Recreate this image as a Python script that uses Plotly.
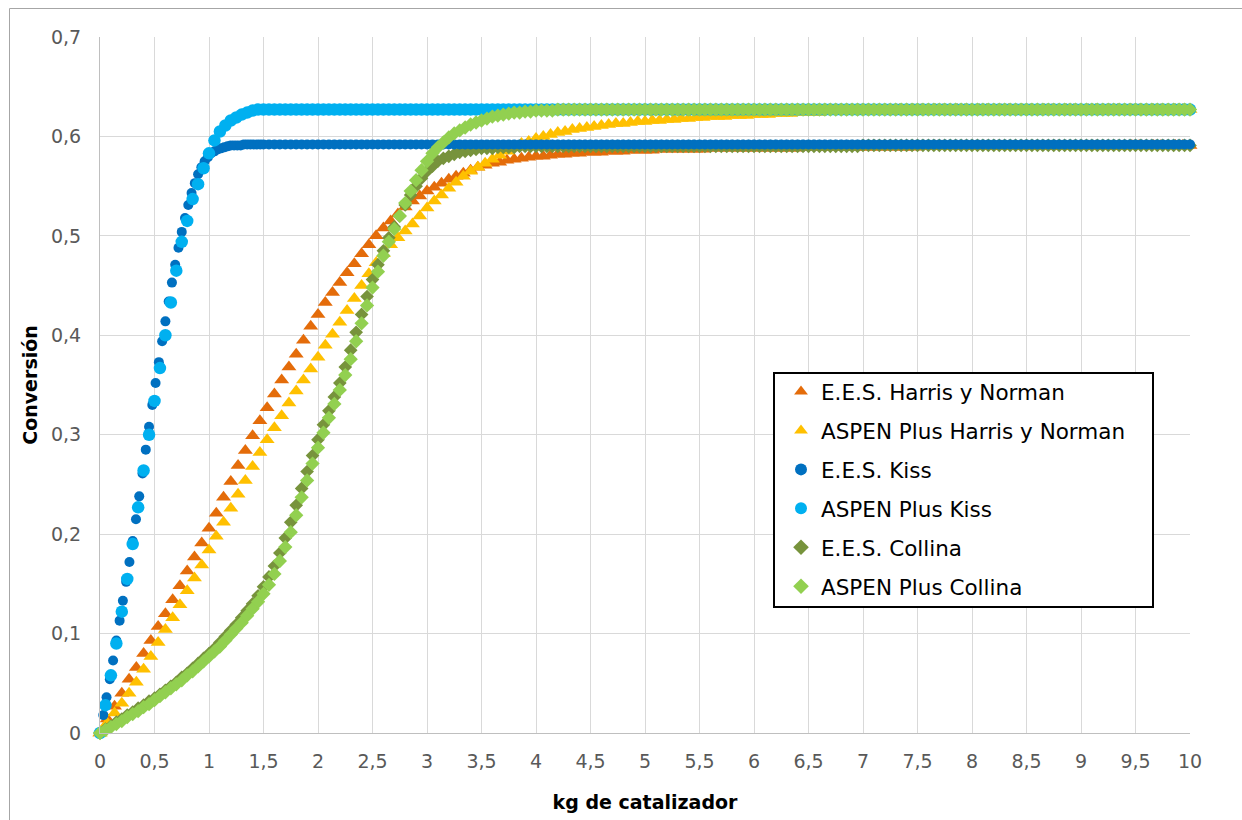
import plotly.graph_objects as go

# ---------------- data ----------------
# x grid used by the Harris y Norman series (step 1/15 kg)
X_HARRIS = [
    0, 0.0667, 0.1333, 0.2, 0.2667, 0.3333, 0.4, 0.4667, 0.5333, 0.6, 0.6667, 0.7333, 0.8, 0.8667, 0.9333,
    1, 1.0667, 1.1333, 1.2, 1.2667, 1.3333, 1.4, 1.4667, 1.5333, 1.6, 1.6667, 1.7333, 1.8, 1.8667, 1.9333,
    2, 2.0667, 2.1333, 2.2, 2.2667, 2.3333, 2.4, 2.4667, 2.5333, 2.6, 2.6667, 2.7333, 2.8, 2.8667, 2.9333,
    3, 3.0667, 3.1333, 3.2, 3.2667, 3.3333, 3.4, 3.4667, 3.5333, 3.6, 3.6667, 3.7333, 3.8, 3.8667, 3.9333,
    4, 4.0667, 4.1333, 4.2, 4.2667, 4.3333, 4.4, 4.4667, 4.5333, 4.6, 4.6667, 4.7333, 4.8, 4.8667, 4.9333,
    5, 5.0667, 5.1333, 5.2, 5.2667, 5.3333, 5.4, 5.4667, 5.5333, 5.6, 5.6667, 5.7333, 5.8, 5.8667, 5.9333,
    6, 6.0667, 6.1333, 6.2, 6.2667, 6.3333, 6.4, 6.4667, 6.5333, 6.6, 6.6667, 6.7333, 6.8, 6.8667, 6.9333,
    7, 7.0667, 7.1333, 7.2, 7.2667, 7.3333, 7.4, 7.4667, 7.5333, 7.6, 7.6667, 7.7333, 7.8, 7.8667, 7.9333,
    8, 8.0667, 8.1333, 8.2, 8.2667, 8.3333, 8.4, 8.4667, 8.5333, 8.6, 8.6667, 8.7333, 8.8, 8.8667, 8.9333,
    9, 9.0667, 9.1333, 9.2, 9.2667, 9.3333, 9.4, 9.4667, 9.5333, 9.6, 9.6667, 9.7333, 9.8, 9.8667, 9.9333,
    10,
]
Y_EES_HARRIS = [
    0, 0.014, 0.027, 0.040, 0.054, 0.066, 0.080, 0.093, 0.107, 0.120, 0.134, 0.148, 0.163, 0.177, 0.191,
    0.206, 0.221, 0.237, 0.253, 0.269, 0.284, 0.299, 0.314, 0.327, 0.341, 0.355, 0.368, 0.381, 0.395, 0.409,
    0.421, 0.433, 0.443, 0.453, 0.463, 0.472, 0.482, 0.491, 0.500, 0.508, 0.515, 0.522, 0.529, 0.535, 0.540,
    0.545, 0.549, 0.553, 0.557, 0.560, 0.563, 0.566, 0.569, 0.571, 0.573, 0.574, 0.576, 0.577, 0.578, 0.579,
    0.580, 0.580, 0.581, 0.582, 0.582, 0.583, 0.583, 0.584, 0.584, 0.584, 0.585, 0.585, 0.585, 0.586, 0.586,
    0.586, 0.586, 0.587, 0.587, 0.587, 0.587, 0.587, 0.587, 0.587, 0.588, 0.588, 0.588, 0.588, 0.588, 0.588,
    0.588, 0.588, 0.588, 0.588, 0.588, 0.588, 0.588, 0.589, 0.589, 0.589, 0.589, 0.589, 0.589, 0.589, 0.589,
    0.589, 0.589, 0.589, 0.589, 0.589, 0.589, 0.589, 0.589, 0.590, 0.590, 0.590, 0.590, 0.590, 0.590, 0.590,
    0.590, 0.590, 0.590, 0.590, 0.590, 0.590, 0.590, 0.590, 0.590, 0.590, 0.590, 0.590, 0.590, 0.590, 0.590,
    0.590, 0.590, 0.590, 0.590, 0.590, 0.590, 0.590, 0.591, 0.591, 0.591, 0.591, 0.591, 0.591, 0.591, 0.591,
    0.591,
]
Y_ASPEN_HARRIS = [
    0, 0.010, 0.020, 0.030, 0.040, 0.051, 0.064, 0.077, 0.091, 0.104, 0.116, 0.129, 0.143, 0.156, 0.169,
    0.184, 0.198, 0.212, 0.226, 0.240, 0.254, 0.268, 0.282, 0.295, 0.307, 0.319, 0.332, 0.344, 0.355, 0.366,
    0.378, 0.390, 0.401, 0.413, 0.425, 0.437, 0.450, 0.462, 0.473, 0.482, 0.491, 0.498, 0.505, 0.512, 0.520,
    0.528, 0.535, 0.541, 0.548, 0.554, 0.560, 0.565, 0.569, 0.573, 0.577, 0.581, 0.585, 0.589, 0.593, 0.595,
    0.598, 0.600, 0.602, 0.604, 0.605, 0.607, 0.608, 0.609, 0.610, 0.611, 0.612, 0.613, 0.613, 0.614, 0.615,
    0.615, 0.616, 0.616, 0.617, 0.617, 0.618, 0.618, 0.619, 0.619, 0.620, 0.620, 0.620, 0.621, 0.621, 0.621,
    0.622, 0.622, 0.622, 0.623, 0.623, 0.623, 0.624, 0.624, 0.624, 0.624, 0.625, 0.625, 0.625, 0.625, 0.626,
    0.626, 0.626, 0.626, 0.626, 0.626, 0.627, 0.627, 0.627, 0.627, 0.627, 0.627, 0.627, 0.627, 0.627, 0.627,
    0.627, 0.627, 0.627, 0.627, 0.627, 0.627, 0.627, 0.627, 0.627, 0.627, 0.627, 0.627, 0.627, 0.627, 0.627,
    0.627, 0.627, 0.627, 0.627, 0.627, 0.627, 0.627, 0.627, 0.627, 0.627, 0.627, 0.627, 0.627, 0.627, 0.627,
    0.627,
]

# x grid used by the E.E.S. Kiss series (fine at the start)
X_EES_KISS = [
    0, 0.03, 0.06, 0.09, 0.12, 0.15, 0.18, 0.21, 0.24, 0.27,
    0.3, 0.33, 0.36, 0.39, 0.42, 0.45, 0.48, 0.51, 0.54, 0.57,
    0.6, 0.63, 0.66, 0.69, 0.72, 0.75, 0.78, 0.81, 0.84, 0.87,
    0.9, 0.93, 0.96, 0.99, 1.02, 1.05, 1.08, 1.11, 1.14, 1.17,
    1.2, 1.23, 1.26, 1.29, 1.32, 1.35, 1.38, 1.41, 1.44, 1.47,
    1.5,
    1.55, 1.6, 1.65, 1.7, 1.75, 1.8, 1.85, 1.9, 1.95,
    2, 2.05, 2.1, 2.15, 2.2, 2.25, 2.3, 2.35, 2.4, 2.45, 2.5, 2.55, 2.6, 2.65, 2.7, 2.75, 2.8, 2.85, 2.9, 2.95,
    3, 3.05, 3.1, 3.15, 3.2, 3.25, 3.3, 3.35, 3.4, 3.45, 3.5, 3.55, 3.6, 3.65, 3.7, 3.75, 3.8, 3.85, 3.9, 3.95,
    4, 4.05, 4.1, 4.15, 4.2, 4.25, 4.3, 4.35, 4.4, 4.45, 4.5, 4.55, 4.6, 4.65, 4.7, 4.75, 4.8, 4.85, 4.9, 4.95,
    5, 5.05, 5.1, 5.15, 5.2, 5.25, 5.3, 5.35, 5.4, 5.45, 5.5, 5.55, 5.6, 5.65, 5.7, 5.75, 5.8, 5.85, 5.9, 5.95,
    6, 6.05, 6.1, 6.15, 6.2, 6.25, 6.3, 6.35, 6.4, 6.45, 6.5, 6.55, 6.6, 6.65, 6.7, 6.75, 6.8, 6.85, 6.9, 6.95,
    7, 7.05, 7.1, 7.15, 7.2, 7.25, 7.3, 7.35, 7.4, 7.45, 7.5, 7.55, 7.6, 7.65, 7.7, 7.75, 7.8, 7.85, 7.9, 7.95,
    8, 8.05, 8.1, 8.15, 8.2, 8.25, 8.3, 8.35, 8.4, 8.45, 8.5, 8.55, 8.6, 8.65, 8.7, 8.75, 8.8, 8.85, 8.9, 8.95,
    9, 9.05, 9.1, 9.15, 9.2, 9.25, 9.3, 9.35, 9.4, 9.45, 9.5, 9.55, 9.6, 9.65, 9.7, 9.75, 9.8, 9.85, 9.9, 9.95,
    10,
]
Y_EES_KISS = [
    0, 0.018, 0.036, 0.054, 0.073, 0.093, 0.113, 0.133, 0.152, 0.172,
    0.193, 0.215, 0.238, 0.261, 0.285, 0.308, 0.330, 0.352, 0.373, 0.394,
    0.414, 0.434, 0.453, 0.471, 0.488, 0.504, 0.518, 0.531, 0.543, 0.553,
    0.562, 0.569, 0.575, 0.579, 0.583, 0.585, 0.587, 0.588, 0.589, 0.590,
    0.591, 0.591, 0.591, 0.591, 0.592, 0.592, 0.592, 0.592, 0.592, 0.592,
    0.592,
    0.592, 0.592, 0.592, 0.592, 0.592, 0.592, 0.592, 0.592, 0.592,
    0.592, 0.592, 0.592, 0.592, 0.592, 0.592, 0.592, 0.592, 0.592, 0.592, 0.592, 0.592, 0.592, 0.592, 0.592, 0.592, 0.592, 0.592, 0.592, 0.592,
    0.592, 0.592, 0.592, 0.592, 0.592, 0.592, 0.592, 0.592, 0.592, 0.592, 0.592, 0.592, 0.592, 0.592, 0.592, 0.592, 0.592, 0.592, 0.592, 0.592,
    0.592, 0.592, 0.592, 0.592, 0.592, 0.592, 0.592, 0.592, 0.592, 0.592, 0.592, 0.592, 0.592, 0.592, 0.592, 0.592, 0.592, 0.592, 0.592, 0.592,
    0.592, 0.592, 0.592, 0.592, 0.592, 0.592, 0.592, 0.592, 0.592, 0.592, 0.592, 0.592, 0.592, 0.592, 0.592, 0.592, 0.592, 0.592, 0.592, 0.592,
    0.592, 0.592, 0.592, 0.592, 0.592, 0.592, 0.592, 0.592, 0.592, 0.592, 0.592, 0.592, 0.592, 0.592, 0.592, 0.592, 0.592, 0.592, 0.592, 0.592,
    0.592, 0.592, 0.592, 0.592, 0.592, 0.592, 0.592, 0.592, 0.592, 0.592, 0.592, 0.592, 0.592, 0.592, 0.592, 0.592, 0.592, 0.592, 0.592, 0.592,
    0.592, 0.592, 0.592, 0.592, 0.592, 0.592, 0.592, 0.592, 0.592, 0.592, 0.592, 0.592, 0.592, 0.592, 0.592, 0.592, 0.592, 0.592, 0.592, 0.592,
    0.592, 0.592, 0.592, 0.592, 0.592, 0.592, 0.592, 0.592, 0.592, 0.592, 0.592, 0.592, 0.592, 0.592, 0.592, 0.592, 0.592, 0.592, 0.592, 0.592,
    0.592,
]

# x grid (step 0.05 kg) used by ASPEN Plus Kiss and both Collina series
X_STD = [
    0, 0.05, 0.1, 0.15, 0.2, 0.25, 0.3, 0.35, 0.4, 0.45, 0.5, 0.55, 0.6, 0.65, 0.7, 0.75, 0.8, 0.85, 0.9, 0.95,
    1, 1.05, 1.1, 1.15, 1.2, 1.25, 1.3, 1.35, 1.4, 1.45, 1.5, 1.55, 1.6, 1.65, 1.7, 1.75, 1.8, 1.85, 1.9, 1.95,
    2, 2.05, 2.1, 2.15, 2.2, 2.25, 2.3, 2.35, 2.4, 2.45, 2.5, 2.55, 2.6, 2.65, 2.7, 2.75, 2.8, 2.85, 2.9, 2.95,
    3, 3.05, 3.1, 3.15, 3.2, 3.25, 3.3, 3.35, 3.4, 3.45, 3.5, 3.55, 3.6, 3.65, 3.7, 3.75, 3.8, 3.85, 3.9, 3.95,
    4, 4.05, 4.1, 4.15, 4.2, 4.25, 4.3, 4.35, 4.4, 4.45, 4.5, 4.55, 4.6, 4.65, 4.7, 4.75, 4.8, 4.85, 4.9, 4.95,
    5, 5.05, 5.1, 5.15, 5.2, 5.25, 5.3, 5.35, 5.4, 5.45, 5.5, 5.55, 5.6, 5.65, 5.7, 5.75, 5.8, 5.85, 5.9, 5.95,
    6, 6.05, 6.1, 6.15, 6.2, 6.25, 6.3, 6.35, 6.4, 6.45, 6.5, 6.55, 6.6, 6.65, 6.7, 6.75, 6.8, 6.85, 6.9, 6.95,
    7, 7.05, 7.1, 7.15, 7.2, 7.25, 7.3, 7.35, 7.4, 7.45, 7.5, 7.55, 7.6, 7.65, 7.7, 7.75, 7.8, 7.85, 7.9, 7.95,
    8, 8.05, 8.1, 8.15, 8.2, 8.25, 8.3, 8.35, 8.4, 8.45, 8.5, 8.55, 8.6, 8.65, 8.7, 8.75, 8.8, 8.85, 8.9, 8.95,
    9, 9.05, 9.1, 9.15, 9.2, 9.25, 9.3, 9.35, 9.4, 9.45, 9.5, 9.55, 9.6, 9.65, 9.7, 9.75, 9.8, 9.85, 9.9, 9.95,
    10,
]
Y_ASPEN_KISS = [
    0, 0.028, 0.058, 0.090, 0.122, 0.155, 0.190, 0.227, 0.264, 0.300, 0.334, 0.367, 0.400, 0.433, 0.465, 0.494, 0.515, 0.537, 0.552, 0.568,
    0.583, 0.596, 0.605, 0.611, 0.616, 0.619, 0.622, 0.624, 0.626, 0.627, 0.627, 0.627, 0.627, 0.627, 0.627, 0.627, 0.627, 0.627, 0.627, 0.627,
    0.627, 0.627, 0.627, 0.627, 0.627, 0.627, 0.627, 0.627, 0.627, 0.627, 0.627, 0.627, 0.627, 0.627, 0.627, 0.627, 0.627, 0.627, 0.627, 0.627,
    0.627, 0.627, 0.627, 0.627, 0.627, 0.627, 0.627, 0.627, 0.627, 0.627, 0.627, 0.627, 0.627, 0.627, 0.627, 0.627, 0.627, 0.627, 0.627, 0.627,
    0.627, 0.627, 0.627, 0.627, 0.627, 0.627, 0.627, 0.627, 0.627, 0.627, 0.627, 0.627, 0.627, 0.627, 0.627, 0.627, 0.627, 0.627, 0.627, 0.627,
    0.627, 0.627, 0.627, 0.627, 0.627, 0.627, 0.627, 0.627, 0.627, 0.627, 0.627, 0.627, 0.627, 0.627, 0.627, 0.627, 0.627, 0.627, 0.627, 0.627,
    0.627, 0.627, 0.627, 0.627, 0.627, 0.627, 0.627, 0.627, 0.627, 0.627, 0.627, 0.627, 0.627, 0.627, 0.627, 0.627, 0.627, 0.627, 0.627, 0.627,
    0.627, 0.627, 0.627, 0.627, 0.627, 0.627, 0.627, 0.627, 0.627, 0.627, 0.627, 0.627, 0.627, 0.627, 0.627, 0.627, 0.627, 0.627, 0.627, 0.627,
    0.627, 0.627, 0.627, 0.627, 0.627, 0.627, 0.627, 0.627, 0.627, 0.627, 0.627, 0.627, 0.627, 0.627, 0.627, 0.627, 0.627, 0.627, 0.627, 0.627,
    0.627, 0.627, 0.627, 0.627, 0.627, 0.627, 0.627, 0.627, 0.627, 0.627, 0.627, 0.627, 0.627, 0.627, 0.627, 0.627, 0.627, 0.627, 0.627, 0.627,
    0.627,
]
Y_EES_COLLINA = [
    0, 0.004, 0.007, 0.011, 0.014, 0.018, 0.021, 0.025, 0.028, 0.032, 0.035, 0.039, 0.043, 0.047, 0.051, 0.056, 0.060, 0.065, 0.070, 0.075,
    0.080, 0.085, 0.091, 0.097, 0.103, 0.109, 0.116, 0.123, 0.130, 0.138, 0.147, 0.157, 0.168, 0.181, 0.196, 0.212, 0.229, 0.246, 0.263, 0.279,
    0.295, 0.310, 0.324, 0.338, 0.352, 0.368, 0.385, 0.403, 0.421, 0.439, 0.456, 0.471, 0.485, 0.498, 0.509, 0.520, 0.531, 0.541, 0.550, 0.558,
    0.565, 0.570, 0.575, 0.578, 0.580, 0.582, 0.584, 0.585, 0.586, 0.587, 0.588, 0.588, 0.588, 0.589, 0.589, 0.589, 0.589, 0.590, 0.590, 0.590,
    0.590, 0.590, 0.590, 0.590, 0.590, 0.590, 0.590, 0.590, 0.590, 0.590, 0.590, 0.590, 0.590, 0.590, 0.590, 0.590, 0.590, 0.590, 0.590, 0.590,
    0.590, 0.590, 0.590, 0.590, 0.590, 0.590, 0.590, 0.590, 0.590, 0.590, 0.590, 0.590, 0.590, 0.590, 0.590, 0.590, 0.590, 0.590, 0.590, 0.590,
    0.590, 0.590, 0.590, 0.590, 0.590, 0.590, 0.590, 0.590, 0.590, 0.590, 0.590, 0.590, 0.590, 0.590, 0.590, 0.590, 0.590, 0.590, 0.590, 0.590,
    0.591, 0.591, 0.591, 0.591, 0.591, 0.591, 0.591, 0.591, 0.591, 0.591, 0.591, 0.591, 0.591, 0.591, 0.591, 0.591, 0.591, 0.591, 0.591, 0.591,
    0.591, 0.591, 0.591, 0.591, 0.591, 0.591, 0.591, 0.591, 0.591, 0.591, 0.591, 0.591, 0.591, 0.591, 0.591, 0.591, 0.591, 0.591, 0.591, 0.591,
    0.591, 0.591, 0.591, 0.591, 0.591, 0.591, 0.591, 0.591, 0.591, 0.591, 0.591, 0.591, 0.591, 0.591, 0.591, 0.591, 0.591, 0.591, 0.591, 0.591,
    0.591,
]
Y_ASPEN_COLLINA = [
    0, 0.003, 0.006, 0.009, 0.012, 0.016, 0.019, 0.022, 0.026, 0.029, 0.033, 0.037, 0.041, 0.045, 0.049, 0.053, 0.058, 0.062, 0.067, 0.072,
    0.077, 0.082, 0.087, 0.093, 0.099, 0.105, 0.111, 0.118, 0.125, 0.132, 0.140, 0.149, 0.160, 0.173, 0.187, 0.202, 0.219, 0.237, 0.254, 0.271,
    0.287, 0.302, 0.317, 0.331, 0.345, 0.360, 0.376, 0.394, 0.412, 0.430, 0.448, 0.464, 0.480, 0.494, 0.507, 0.520, 0.533, 0.545, 0.556, 0.566,
    0.575, 0.583, 0.589, 0.594, 0.599, 0.603, 0.606, 0.609, 0.612, 0.614, 0.616, 0.618, 0.620, 0.621, 0.622, 0.623, 0.624, 0.624, 0.625, 0.625,
    0.626, 0.626, 0.626, 0.626, 0.627, 0.627, 0.627, 0.627, 0.627, 0.627, 0.627, 0.627, 0.627, 0.627, 0.627, 0.627, 0.627, 0.627, 0.627, 0.627,
    0.627, 0.627, 0.627, 0.627, 0.627, 0.627, 0.627, 0.627, 0.627, 0.627, 0.627, 0.627, 0.627, 0.627, 0.627, 0.627, 0.627, 0.627, 0.627, 0.627,
    0.627, 0.627, 0.627, 0.627, 0.627, 0.627, 0.627, 0.627, 0.627, 0.627, 0.627, 0.627, 0.627, 0.627, 0.627, 0.627, 0.627, 0.627, 0.627, 0.627,
    0.627, 0.627, 0.627, 0.627, 0.627, 0.627, 0.627, 0.627, 0.627, 0.627, 0.627, 0.627, 0.627, 0.627, 0.627, 0.627, 0.627, 0.627, 0.627, 0.627,
    0.627, 0.627, 0.627, 0.627, 0.627, 0.627, 0.627, 0.627, 0.627, 0.627, 0.627, 0.627, 0.627, 0.627, 0.627, 0.627, 0.627, 0.627, 0.627, 0.627,
    0.627, 0.627, 0.627, 0.627, 0.627, 0.627, 0.627, 0.627, 0.627, 0.627, 0.627, 0.627, 0.627, 0.627, 0.627, 0.627, 0.627, 0.627, 0.627, 0.627,
    0.627,
]

SERIES_NAMES = [
    "E.E.S. Harris y Norman",
    "ASPEN Plus Harris y Norman",
    "E.E.S. Kiss",
    "ASPEN Plus Kiss",
    "E.E.S. Collina",
    "ASPEN Plus Collina",
]
X_TITLE = "kg de catalizador"
Y_TITLE = "Conversión"

assert len(X_HARRIS) == len(Y_EES_HARRIS) == len(Y_ASPEN_HARRIS)
assert len(X_EES_KISS) == len(Y_EES_KISS)
assert len(X_STD) == len(Y_ASPEN_KISS) == len(Y_EES_COLLINA) == len(Y_ASPEN_COLLINA)

# ---------------- styling ----------------
FONT = "DejaVu Sans"
W, H = 1242, 820
ML, MR, MT, MB = 100, 52, 37, 87
PW, PH = W - ML - MR, H - MT - MB


def px_to_paper_x(px):
    return (px - ML) / PW


def px_to_paper_y(py):
    return (H - MB - py) / PH


# (name index, x, y, symbol, color, size, legendrank) in drawing order
traces = [
    (0, X_HARRIS, Y_EES_HARRIS, "triangle-up", "#E46C0A", 13, 1),
    (1, X_HARRIS, Y_ASPEN_HARRIS, "triangle-up", "#FFC000", 13, 2),
    (4, X_STD, Y_EES_COLLINA, "diamond", "#77933C", 10.5, 5),
    (2, X_EES_KISS, Y_EES_KISS, "circle", "#0070C0", 10, 3),
    (3, X_STD, Y_ASPEN_KISS, "circle", "#00B0F0", 12.5, 4),
    (5, X_STD, Y_ASPEN_COLLINA, "diamond", "#92D050", 11, 6),
]

fig = go.Figure()
for idx, xs, ys, sym, col, size, rank in traces:
    fig.add_trace(
        go.Scatter(
            x=xs,
            y=ys,
            mode="markers",
            name=SERIES_NAMES[idx],
            legendgroup=SERIES_NAMES[idx],
            legendrank=rank,
            marker=dict(symbol=sym, color=col, size=size, line=dict(width=0)),
            cliponaxis=False,
        )
    )

axis_common = dict(
    showgrid=True,
    gridcolor="#d9d9d9",
    gridwidth=1,
    showline=True,
    linecolor="#bfbfbf",
    linewidth=1,
    zeroline=False,
    ticks="",
    tickfont=dict(family=FONT, size=19, color="#595959"),
    automargin=False,
)

fig.update_layout(
    width=W,
    height=H,
    margin=dict(l=ML, r=MR, t=MT, b=MB, pad=0),
    separators=",.",
    paper_bgcolor="white",
    plot_bgcolor="white",
    font=dict(family=FONT, color="#000000"),
    xaxis=dict(
        range=[0, 10],
        tick0=0,
        dtick=0.5,
        ticklabelstandoff=11,
        title=dict(text=X_TITLE, font=dict(family=FONT, size=19, color="#000000", weight="bold"), standoff=24),
        **axis_common,
    ),
    yaxis=dict(
        range=[0, 0.7],
        tick0=0,
        dtick=0.1,
        ticklabelstandoff=14,
        title=dict(text=Y_TITLE, font=dict(family=FONT, size=19, color="#000000", weight="bold"), standoff=8),
        **axis_common,
    ),
    legend=dict(
        x=px_to_paper_x(781),
        y=px_to_paper_y(371),
        xanchor="left",
        yanchor="top",
        bgcolor="rgba(0,0,0,0)",
        borderwidth=0,
        font=dict(family=FONT, size=21.5, color="#000000"),
        tracegroupgap=8,
        itemsizing="constant",
        itemclick=False,
        itemdoubleclick=False,
    ),
    shapes=[
        # legend frame
        dict(
            type="rect", xref="paper", yref="paper",
            x0=px_to_paper_x(774), x1=px_to_paper_x(1153),
            y0=px_to_paper_y(607), y1=px_to_paper_y(373),
            line=dict(color="#000000", width=2), fillcolor="white", layer="above",
        ),
        # outer chart border
        dict(
            type="rect", xref="paper", yref="paper",
            x0=px_to_paper_x(9.5), x1=px_to_paper_x(1300),
            y0=px_to_paper_y(900), y1=px_to_paper_y(8.5),
            line=dict(color="#a6a6a6", width=1), fillcolor="rgba(0,0,0,0)", layer="above",
        ),
    ],
)

fig.write_html("out.html")
